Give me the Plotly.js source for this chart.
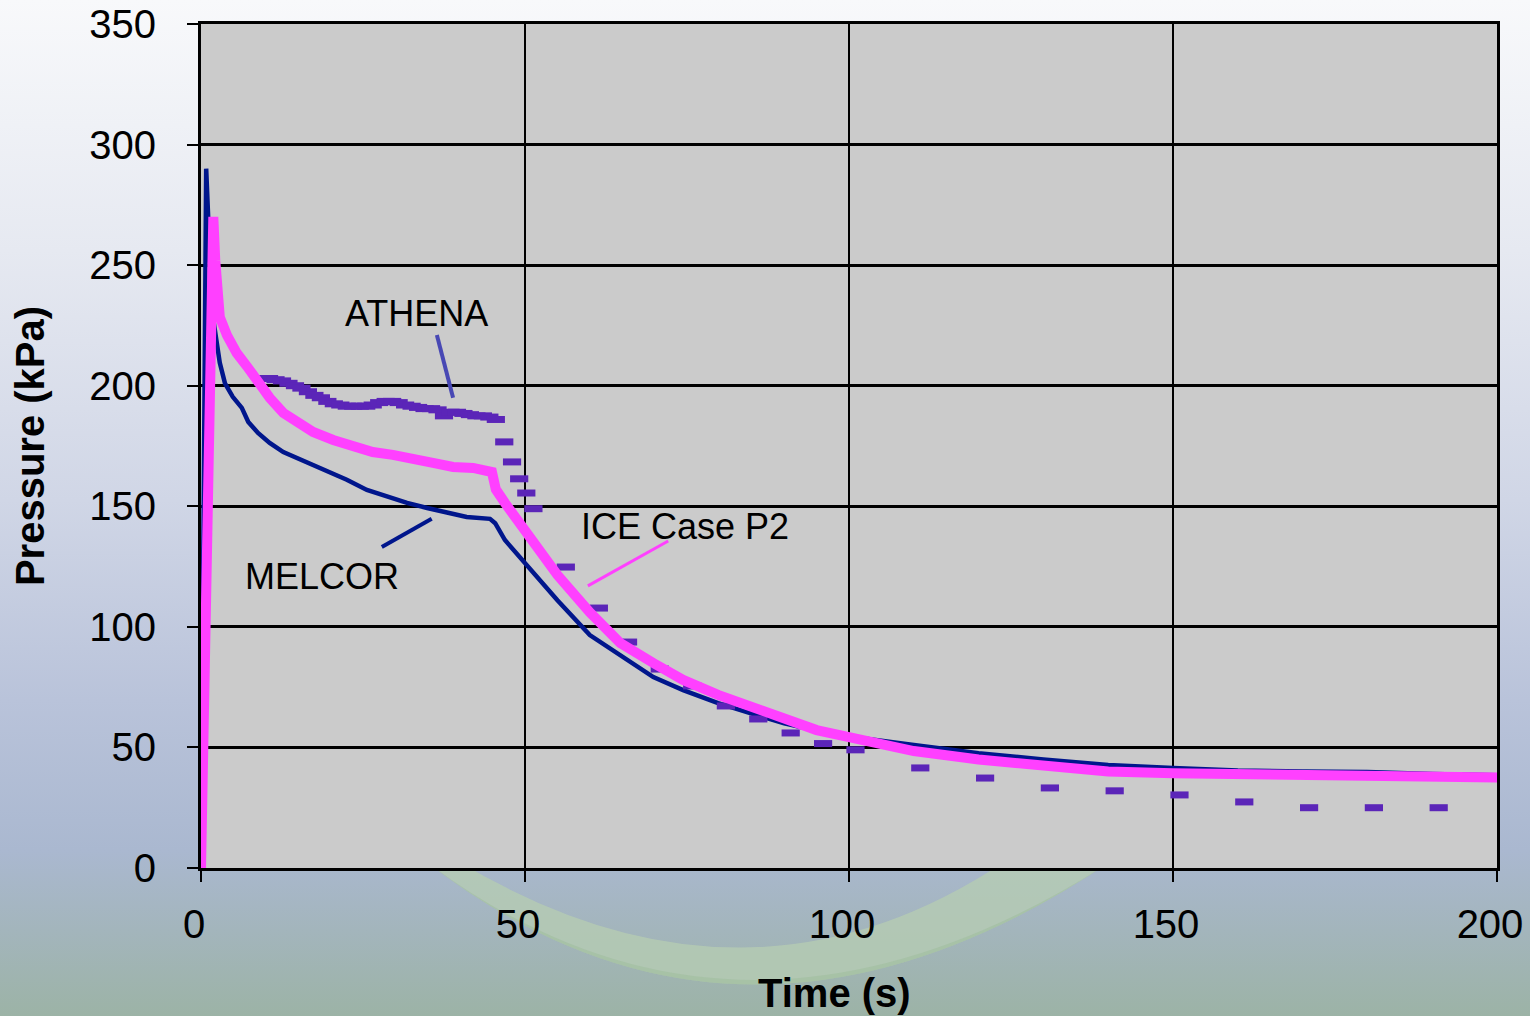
<!DOCTYPE html>
<html>
<head>
<meta charset="utf-8">
<script src="https://cdn.plot.ly/plotly-3.0.1.min.js"></script>
<style>
html, body { margin: 0; padding: 0; width: 1530px; height: 1016px; overflow: hidden; }
body {
  background-image:
    url("data:image/svg+xml;utf8,<svg xmlns='http://www.w3.org/2000/svg' width='1530' height='1016'><path d='M424 860 Q 742 1108 1110 862 L 1004 862 Q 745 1034 456 860 Z' fill='%23b5ccb3' fill-opacity='0.8'/><path d='M424 860 Q 742 1108 1110 862 L 1104 866 Q 742 1094 432 866 Z' fill='%239fbd9d' fill-opacity='0.55'/></svg>"),
    linear-gradient(to bottom, #f8f9fb 0px, #e6e9f1 250px, #d0d6e6 500px, #b9c3da 700px, #aab8d0 850px, #a3b5bc 930px, #9cb3a6 1016px);
  background-repeat: no-repeat;
}
#chart { width: 1530px; height: 1016px; }
</style>
</head>
<body>
<div id="chart"></div>
<script>
// ---- data ----
const iceTime = [0, 1.9, 2.2, 2.5, 2.9, 4, 5.5, 7.1, 8.6, 10.6, 12.7, 14.8, 17.3, 20.4, 23.5, 26.5, 29.6, 32.7, 35.8, 38.9, 42, 44.9, 45.5, 46.9, 48.8, 51.2, 55, 60, 64.7, 69.8, 74.4, 79.8, 85, 89.8, 95, 100, 110, 120, 130, 140, 150, 160, 170, 180, 190, 200];
const icePressure = [0, 270, 252, 240, 228.5, 221, 213.6, 208, 202, 195, 188.7, 184.6, 180.8, 177.5, 174.6, 172.5, 171.3, 169.2, 168, 166.3, 165.9, 164.2, 157, 151.4, 144.3, 136, 121.5, 106, 93.3, 85, 78, 71.8, 66.8, 61.4, 57.2, 54.3, 48.5, 45, 42.5, 40, 39.3, 38.8, 38.3, 38, 37.7, 37.5];

const melcorTime = [0, 0.8, 1.7, 2.5, 2.9, 3.7, 4.9, 6.3, 7.3, 8.8, 10.6, 12.7, 14.8, 17.3, 19.9, 22.5, 25.6, 28.7, 31.8, 34.9, 38, 41, 44.6, 45.4, 46.9, 49.2, 55, 60, 64.7, 69.8, 74.4, 79.8, 85, 90, 95, 100, 110, 120, 130, 140, 150, 160, 170, 180, 190, 200];
const melcorPressure = [0, 290, 231, 218, 209.5, 201, 195.4, 190.8, 185, 180.4, 176.3, 172.5, 170, 167, 164.2, 161, 156.8, 154, 151.4, 149.3, 147.2, 145.6, 144.8, 143, 136, 129, 111, 96.6, 88.3, 79.2, 73.8, 68.4, 64, 60, 57, 54.5, 51, 47.6, 45, 42.7, 41.5, 40.4, 40, 39.8, 39, 38.5];

const athenaTime = [9.5, 10.5, 11.5, 12.5, 13.5, 14.5, 15.5, 16.5, 17.5, 18.5, 19.5, 20.5, 21.5, 22.5, 23.5, 24.5, 25.5, 26.5, 27.5, 28.5, 29.5, 30.5, 31.5, 32.5, 33.5, 34.5, 35.5, 36.5, 37.5, 38.5, 39.5, 40.5, 41.5, 42.5, 43.5, 44.5, 45.5, 46.8, 48, 49.1, 50.2, 51.3, 56.3, 61.4, 65.9, 70.8, 75.8, 81, 86, 91, 96, 101, 111, 121, 131, 141, 151, 161, 171, 181, 191];
const athenaPressure = [203, 203, 202.5, 202, 201, 200, 199, 197.5, 196, 195, 193.5, 192.5, 192, 191.5, 191.5, 191.5, 191.5, 192, 193, 193.5, 193.5, 193, 192, 191.5, 191, 190.5, 190.5, 190, 187.5, 189, 189, 188.5, 188, 187.5, 187.5, 187, 186, 176.7, 168.4, 161.4, 155.5, 149, 124.8, 107.8, 93.7, 82.5, 75.5, 67.2, 61.8, 56, 51.6, 49, 41.5, 37.3, 33.2, 32, 30.3, 27.4, 25, 25, 25];

const xTicks = [0, 50, 100, 150, 200];
const xTickText = ["0", "50", "100", "150", "200"];
const yTicks = [0, 50, 100, 150, 200, 250, 300, 350];

// label positions and pointer lines (time, pressure)
const labelNames = ["ATHENA", "MELCOR", "ICE Case P2"];
const labelX = [33.3, 18.7, 74.7];
const labelY = [230, 120.7, 141.8];
const pointerX0 = [36.4, 27.9, 59.7];
const pointerY0 = [221, 133.1, 117];
const pointerX1 = [38.9, 35.6, 72.1];
const pointerY1 = [195, 144.8, 135.6];
const pointerColors = ["#4848b4", "#00168c", "#ff40ff"];
const pointerWidths = [4, 4, 3];

const FONT = "'Liberation Sans', Arial, Helvetica, sans-serif";

const traces = [
  {
    x: melcorTime, y: melcorPressure, name: "MELCOR", type: "scatter", mode: "lines",
    line: { color: "#00168c", width: 4.5 }
  },
  {
    x: athenaTime, y: athenaPressure, name: "ATHENA", type: "scatter", mode: "markers",
    marker: { symbol: "line-ew", size: 13, color: "#5b25b8", line: { color: "#5b25b8", width: 7 } }
  },
  {
    x: iceTime, y: icePressure, name: "ICE Case P2", type: "scatter", mode: "lines",
    line: { color: "#ff40ff", width: 10 }
  }
];

const annotations = labelNames.map((t, i) => ({
  x: labelX[i], y: labelY[i], xref: "x", yref: "y", text: t, showarrow: false,
  font: { family: FONT, size: 36, color: "#000000" }, xanchor: "center", yanchor: "middle"
}));
// x-axis title placed as a paper annotation (pixel centre 834, 993)
annotations.push({
  x: (834 - 201) / (1530 - 201 - 33), y: -(993 - 868) / (1016 - 24 - 148),
  xref: "paper", yref: "paper", text: "<b>Time (s)</b>", showarrow: false,
  xanchor: "center", yanchor: "middle",
  font: { family: FONT, size: 40, color: "#000000" }
});

const shapes = labelNames.map((t, i) => ({
  type: "line", xref: "x", yref: "y",
  x0: pointerX0[i], y0: pointerY0[i], x1: pointerX1[i], y1: pointerY1[i],
  line: { color: pointerColors[i], width: pointerWidths[i] }
}));

const layout = {
  width: 1530, height: 1016,
  margin: { l: 201, r: 33, t: 24, b: 148, pad: 0 },
  paper_bgcolor: "rgba(0,0,0,0)",
  plot_bgcolor: "#cbcbcb",
  showlegend: false,
  font: { family: FONT, size: 40, color: "#000000" },
  xaxis: {
    range: [0, 200], tickvals: xTicks, ticktext: xTickText,
    showgrid: true, gridcolor: "#000000", gridwidth: 2.5,
    showline: true, linecolor: "#000000", linewidth: 3, mirror: true,
    ticks: "outside", ticklen: 11, tickwidth: 2, tickcolor: "#000000",
    ticklabelstandoff: 8, ticklabelshift: -7, ticklabeloverflow: "allow",
    zeroline: false,
    tickfont: { family: FONT, size: 40, color: "#000000" }
  },
  yaxis: {
    range: [0, 350], tickvals: yTicks, ticktext: yTicks.map(String),
    showgrid: true, gridcolor: "#000000", gridwidth: 3,
    showline: true, linecolor: "#000000", linewidth: 3, mirror: true,
    ticks: "outside", ticklen: 11, tickwidth: 2, tickcolor: "#000000",
    ticklabelstandoff: 23, ticklabeloverflow: "allow",
    zeroline: false,
    tickfont: { family: FONT, size: 40, color: "#000000" },
    title: { text: "<b>Pressure (kPa)</b>", font: { family: FONT, size: 40, color: "#000000" }, standoff: 33 }
  },
  annotations: annotations,
  shapes: shapes
};

Plotly.newPlot("chart", traces, layout, { displayModeBar: false, staticPlot: true });
</script>
</body>
</html>
